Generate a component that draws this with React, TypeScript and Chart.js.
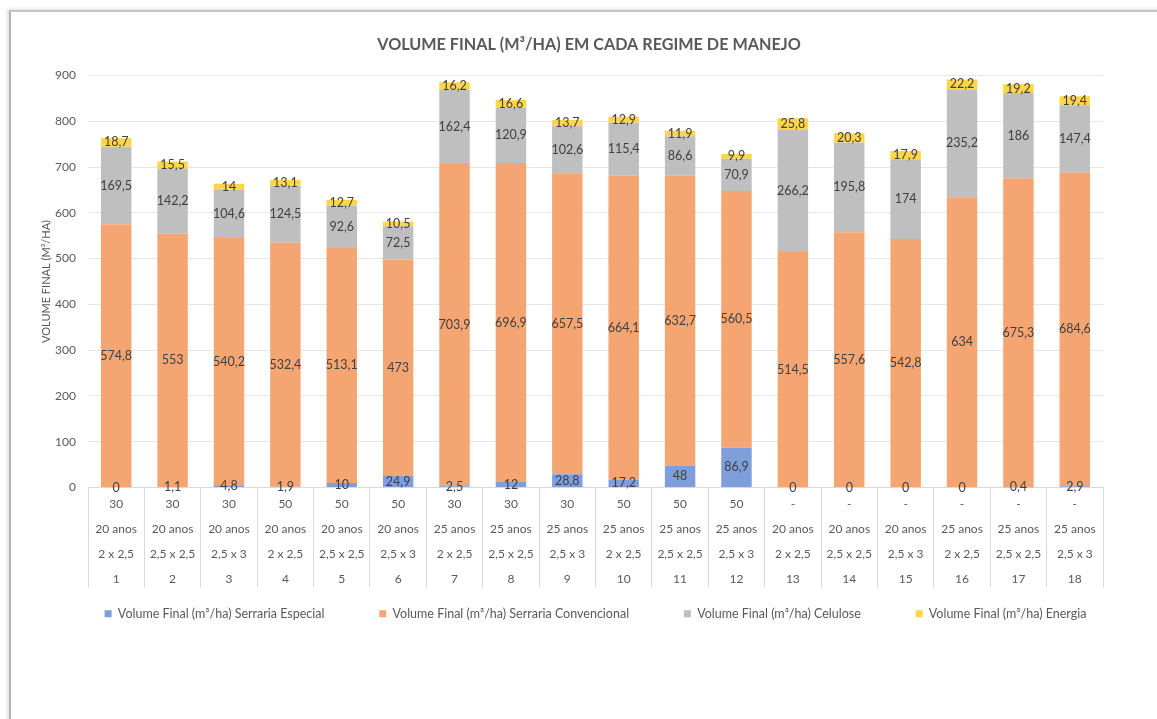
import React, { useEffect, useRef } from "react";
import { Chart, registerables } from "chart.js";

Chart.register(...registerables);

const categories: string[][] = [
  ["30", "20 anos", "2 x 2,5", "1"],
  ["30", "20 anos", "2,5 x 2,5", "2"],
  ["30", "20 anos", "2,5 x 3", "3"],
  ["50", "20 anos", "2 x 2,5", "4"],
  ["50", "20 anos", "2,5 x 2,5", "5"],
  ["50", "20 anos", "2,5 x 3", "6"],
  ["30", "25 anos", "2 x 2,5", "7"],
  ["30", "25 anos", "2,5 x 2,5", "8"],
  ["30", "25 anos", "2,5 x 3", "9"],
  ["50", "25 anos", "2 x 2,5", "10"],
  ["50", "25 anos", "2,5 x 2,5", "11"],
  ["50", "25 anos", "2,5 x 3", "12"],
  ["-", "20 anos", "2 x 2,5", "13"],
  ["-", "20 anos", "2,5 x 2,5", "14"],
  ["-", "20 anos", "2,5 x 3", "15"],
  ["-", "25 anos", "2 x 2,5", "16"],
  ["-", "25 anos", "2,5 x 2,5", "17"],
  ["-", "25 anos", "2,5 x 3", "18"],
];

const serrariaEspecial = [0, 1.1, 4.8, 1.9, 10, 24.9, 2.5, 12, 28.8, 17.2, 48, 86.9, 0, 0, 0, 0, 0.4, 2.9];
const serrariaConvencional = [574.8, 553, 540.2, 532.4, 513.1, 473, 703.9, 696.9, 657.5, 664.1, 632.7, 560.5, 514.5, 557.6, 542.8, 634, 675.3, 684.6];
const celulose = [169.5, 142.2, 104.6, 124.5, 92.6, 72.5, 162.4, 120.9, 102.6, 115.4, 86.6, 70.9, 266.2, 195.8, 174, 235.2, 186, 147.4];
const energia = [18.7, 15.5, 14, 13.1, 12.7, 10.5, 16.2, 16.6, 13.7, 12.9, 11.9, 9.9, 25.8, 20.3, 17.9, 22.2, 19.2, 19.4];

const seriesNames = [
  "Volume Final (m³/ha) Serraria Especial",
  "Volume Final (m³/ha) Serraria Convencional",
  "Volume Final (m³/ha) Celulose",
  "Volume Final (m³/ha) Energia",
];
const seriesColors = ["#7f9fdc", "#f4a572", "#bfbfbf", "#ffd54a"];

const yTicks = { min: 0, max: 900, step: 100 };
const titleText = "VOLUME FINAL (M³/HA) EM CADA REGIME DE MANEJO";
const yTitle = "VOLUME FINAL (M³/HA)";

const FONT = "Lato, 'Open Sans', sans-serif";

const fmt = (v: number) => String(v).replace(".", ",");

const segLabels = {
  id: "segLabels",
  afterDatasetsDraw(chart: any) {
    const ctx = chart.ctx;
    ctx.save();
    ctx.font = `12.5px ${FONT}`;
    ctx.fillStyle = "#404040";
    ctx.textAlign = "center";
    ctx.textBaseline = "middle";
    chart.data.datasets.forEach((ds: any, i: number) => {
      const meta = chart.getDatasetMeta(i);
      meta.data.forEach((el: any, j: number) => {
        const p = el.getProps(["x", "y", "base"], true);
        ctx.fillText(fmt(ds.data[j]), p.x, (p.y + p.base) / 2);
      });
    });
    ctx.restore();
  },
};

export default function App() {
  const ref = useRef<HTMLCanvasElement>(null);
  useEffect(() => {
    if (!ref.current) return;
    const values = [serrariaEspecial, serrariaConvencional, celulose, energia];
    const chart = new Chart(ref.current, {
      type: "bar",
      data: {
        labels: categories,
        datasets: values.map((d, i) => ({
          label: seriesNames[i],
          data: d,
          backgroundColor: seriesColors[i],
          borderWidth: 0,
          categoryPercentage: 1,
          barPercentage: 0.54,
        })),
      },
      options: {
        responsive: false,
        animation: false,
        layout: { padding: { left: 30, right: 9, top: 0, bottom: 89 } },
        plugins: {
          tooltip: { enabled: false },
          title: {
            display: true,
            text: titleText,
            color: "#595959",
            font: { family: FONT, size: 16.2, weight: "bold" },
            padding: { top: 35, bottom: 21 },
          },
          legend: {
            position: "bottom",
            fullSize: false,
            labels: {
              color: "#595959",
              font: { family: FONT, size: 12.5 },
              boxWidth: 7,
              boxHeight: 7,
              padding: 10,
              generateLabels: (chart: any) => {
                const items = Chart.defaults.plugins.legend.labels.generateLabels(chart);
                return items.map((it: any, i: number) => ({
                  ...it,
                  text: i < items.length - 1 ? it.text + " ".repeat(14) : it.text,
                }));
              },
            },
          },
        },
        scales: {
          x: {
            stacked: true,
            grid: {
              offset: true,
              drawOnChartArea: false,
              drawTicks: true,
              tickLength: 100,
              color: "#d9d9d9",
            },
            border: { color: "#d9d9d9" },
            ticks: {
              color: "#595959",
              font: { family: FONT, size: 12, lineHeight: 2.08 },
              padding: -95.5,
              maxRotation: 0,
              autoSkip: false,
            },
            afterFit: (s: any) => {
              s.height = 110;
            },
          },
          y: {
            stacked: true,
            min: yTicks.min,
            max: yTicks.max,
            grid: { color: "#e6e6e6", drawTicks: false },
            border: { display: false },
            ticks: {
              stepSize: yTicks.step,
              color: "#595959",
              font: { family: FONT, size: 12 },
              padding: 12,
            },
            title: {
              display: true,
              text: yTitle,
              color: "#595959",
              font: { family: FONT, size: 11, lineHeight: 1.2 },
              padding: { top: 9.4, bottom: 0 },
            },
            afterFit: (s: any) => {
              s.width = 58;
            },
          },
          yRightSpace: {
            type: "linear",
            position: "right",
            display: true,
            grid: { display: false, drawTicks: false },
            border: { display: false },
            ticks: { display: false },
            afterFit: (s: any) => {
              s.width = 45;
            },
          },
        },
      },
      plugins: [segLabels],
    });
    return () => chart.destroy();
  }, []);

  return (
    <div style={{ position: "fixed", left: 0, top: 0, width: 1157, height: 719, overflow: "hidden", background: "#fff" }}>
      <div
        style={{
          position: "absolute",
          left: 9,
          top: 10,
          width: 1200,
          height: 800,
          borderLeft: "2px solid #b5b5b5",
          borderTop: "2px solid #c4c4c4",
          boxShadow: "-2px -1px 3px rgba(0,0,0,0.12)",
        }}
      />
      <canvas ref={ref} width={1157} height={719} style={{ position: "absolute", left: 0, top: 0 }} />
    </div>
  );
}
